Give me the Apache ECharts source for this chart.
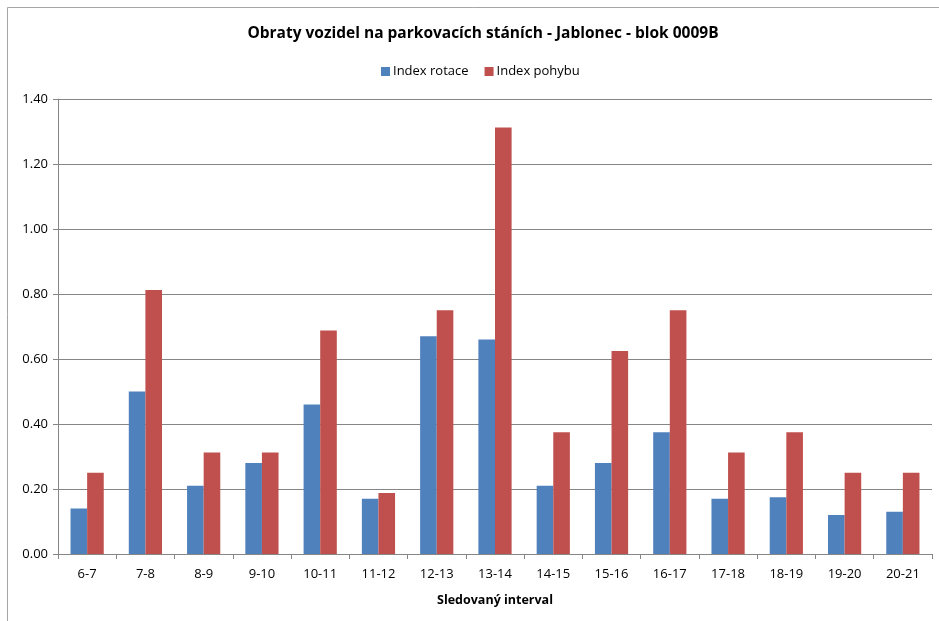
<!DOCTYPE html>
<html><head><meta charset="utf-8">
<script src="https://cdn.jsdelivr.net/npm/echarts@6/dist/echarts.min.js"></script>
<style>html,body{margin:0;padding:0;background:#fff}#c{width:939px;height:621px}</style>
</head><body><div id="c"></div>
<script>
var categories = ['6-7','7-8','8-9','9-10','10-11','11-12','12-13','13-14','14-15','15-16','16-17','17-18','18-19','19-20','20-21'];
var indexRotace = [0.14,0.50,0.21,0.28,0.46,0.17,0.67,0.66,0.21,0.28,0.375,0.17,0.175,0.12,0.13];
var indexPohybu = [0.25,0.8125,0.3125,0.3125,0.6875,0.1875,0.75,1.3125,0.375,0.625,0.75,0.3125,0.375,0.25,0.25];
var chart = echarts.init(document.getElementById('c'), null, {renderer:'canvas'});
var font = 'Open Sans';
chart.setOption({
  animation:false,
  backgroundColor:'#fff',
  title:{text:'Obraty vozidel na parkovacích stáních - Jablonec - blok 0009B', left:478, top:21, textAlign:'center',
    textStyle:{fontFamily:font, fontSize:15.5, fontWeight:'bold', color:'#000'}},
  legend:{top:60, left:376, itemWidth:9, itemHeight:9, itemGap:16, icon:'rect', orient:'horizontal',
    textStyle:{fontFamily:font, fontSize:13, color:'#000', padding:[0,0,0,-2]}},
  graphic:[
    {type:'line', shape:{x1:7.5,y1:7.5,x2:939,y2:7.5}, style:{stroke:'#a6a6a6', lineWidth:1}},
    {type:'line', shape:{x1:7.5,y1:7.5,x2:7.5,y2:621}, style:{stroke:'#a6a6a6', lineWidth:1}}
  ],
  grid:{left:58, right:7, top:99, bottom:67, containLabel:false},
  xAxis:{type:'category', data:categories, name:'Sledovaný interval', nameLocation:'middle', nameGap:40,
    nameTextStyle:{fontFamily:font, fontSize:12.5, fontWeight:'bold', color:'#000'},
    axisLine:{lineStyle:{color:'#868686'}}, axisTick:{show:true, length:5, lineStyle:{color:'#868686'}},
    axisLabel:{fontFamily:font, fontSize:13, color:'#000', margin:14}},
  yAxis:{type:'value', min:0, max:1.4, interval:0.2,
    axisLine:{show:true, lineStyle:{color:'#868686'}}, axisTick:{show:true, length:5, lineStyle:{color:'#868686'}},
    splitLine:{lineStyle:{color:'#868686'}},
    axisLabel:{fontFamily:font, fontSize:13, color:'#000', margin:10, formatter:function(v){return v.toFixed(2);}}},
  series:[
    {name:'Index rotace', type:'bar', data:indexRotace, barGap:'0%', barCategoryGap:'43%', itemStyle:{color:'#4F81BD'}},
    {name:'Index pohybu', type:'bar', data:indexPohybu, itemStyle:{color:'#C0504D'}}
  ]
});
</script></body></html>
